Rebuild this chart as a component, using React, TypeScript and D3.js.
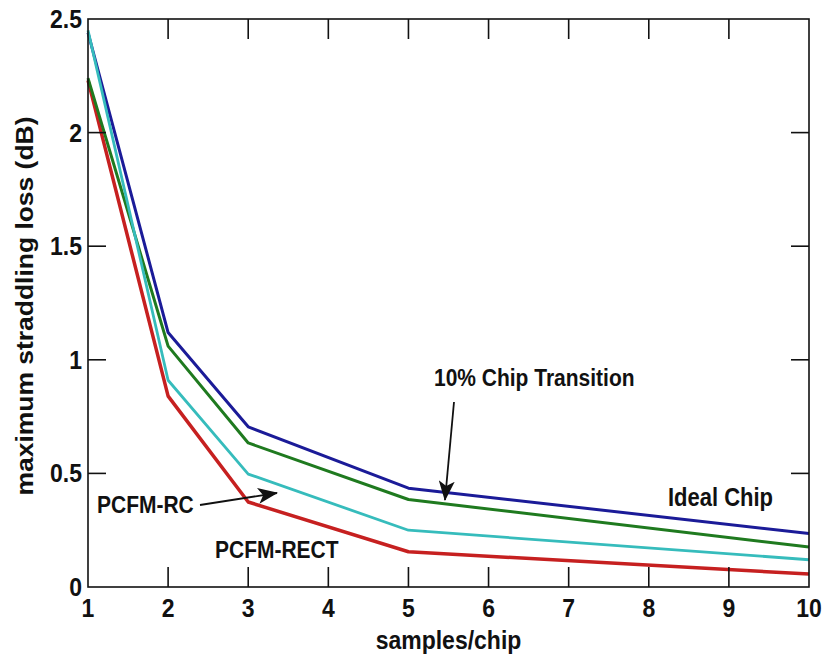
import React from "react";
import * as d3 from "d3";

const samples = [1, 2, 3, 5, 10];
const idealChip = [2.44, 1.12, 0.705, 0.435, 0.235];
const chipTransition10 = [2.24, 1.06, 0.634, 0.385, 0.176];
const pcfmRC = [2.45, 0.91, 0.497, 0.25, 0.12];
const pcfmRect = [2.23, 0.84, 0.374, 0.155, 0.057];

const xTicks = [1, 2, 3, 4, 5, 6, 7, 8, 9, 10];
const yTicks = [0, 0.5, 1, 1.5, 2, 2.5];
const yTickLabels = ["0", "0.5", "1", "1.5", "2", "2.5"];

const W = 827;
const H = 660;
const left = 88;
const right = 809;
const top = 19;
const bottom = 587;

const FONT = "'Liberation Sans', Arial, Helvetica, sans-serif";
const SY = 1.15;

function T(props: {
  x: number;
  y: number;
  size: number;
  anchor?: string;
  weight?: string;
  sy?: number;
  children: React.ReactNode;
}) {
  const { x, y, size, anchor = "start", weight = "bold", sy = SY, children } = props;
  return (
    <text
      transform={`translate(${x},${y}) scale(1,${sy})`}
      textAnchor={anchor}
      fontSize={size}
      fontWeight={weight}
      fill="#111"
    >
      {children}
    </text>
  );
}

export default function App() {
  const x = d3.scaleLinear().domain([1, 10]).range([left, right]);
  const y = d3.scaleLinear().domain([0, 2.5]).range([bottom, top]);

  const line = d3
    .line<number>()
    .x((_, i) => x(samples[i]))
    .y((d) => y(d));

  const series = [
    { name: "Ideal Chip", values: idealChip, color: "#1b1b98", width: 3 },
    { name: "PCFM-RECT", values: pcfmRect, color: "#c62020", width: 3.5 },
    { name: "10% Chip Transition", values: chipTransition10, color: "#1f7a1f", width: 3 },
    { name: "PCFM-RC", values: pcfmRC, color: "#36bcbc", width: 2.8 },
  ];

  const tickX = 20;
  const tickY = 18;

  return (
    <svg
      width={W}
      height={H}
      style={{ position: "absolute", left: 0, top: 0, background: "#fff" }}
      fontFamily={FONT}
    >
      <defs>
        <marker
          id="ah"
          viewBox="0 0 20 16"
          refX="19"
          refY="8"
          markerWidth="20"
          markerHeight="16"
          markerUnits="userSpaceOnUse"
          orient="auto"
        >
          <path d="M0,0 L20,8 L0,16 L5,8 Z" fill="#111" />
        </marker>
      </defs>
      <rect x={0} y={0} width={W} height={H} fill="#fff" />

      {series.map((s) => (
        <path
          key={s.name}
          d={line(s.values) || ""}
          fill="none"
          stroke={s.color}
          strokeWidth={s.width}
          strokeLinejoin="round"
        />
      ))}

      {/* frame */}
      <rect
        x={left}
        y={top}
        width={right - left}
        height={bottom - top}
        fill="none"
        stroke="#111"
        strokeWidth={1.6}
      />

      {/* x ticks */}
      {xTicks.map((t) => (
        <g key={"xt" + t}>
          {t > 1 && t < 10 && (
            <>
              <line x1={x(t)} x2={x(t)} y1={bottom} y2={bottom - tickX} stroke="#111" strokeWidth={1.6} />
              <line x1={x(t)} x2={x(t)} y1={top} y2={top + tickX} stroke="#111" strokeWidth={1.6} />
            </>
          )}
          <T x={x(t)} y={bottom + 30} size={23} anchor="middle">
            {t}
          </T>
        </g>
      ))}

      {/* y ticks */}
      {yTicks.map((t, i) => (
        <g key={"yt" + t}>
          {t > 0 && t < 2.5 && (
            <>
              <line x1={left} x2={left + tickY} y1={y(t)} y2={y(t)} stroke="#111" strokeWidth={1.6} />
              <line x1={right} x2={right - tickY} y1={y(t)} y2={y(t)} stroke="#111" strokeWidth={1.6} />
            </>
          )}
          <T x={left - 6} y={y(t) + 9} size={23} anchor="end">
            {yTickLabels[i]}
          </T>
        </g>
      ))}

      {/* axis labels */}
      <T x={(left + right) / 2} y={649} size={23} anchor="middle">
        samples/chip
      </T>
      <text
        transform={`translate(33, ${(top + bottom) / 2 + 3}) rotate(-90) scale(${SY},1)`}
        textAnchor="middle"
        fontSize={23}
        fontWeight="bold"
        fill="#111"
      >
        maximum straddling loss (dB)
      </text>

      {/* annotations */}
      <T x={434} y={386} size={21}>
        10% Chip Transition
      </T>
      <line x1={454} y1={402} x2={445} y2={500} stroke="#111" strokeWidth={1.8} markerEnd="url(#ah)" />

      <T x={668} y={506} size={22}>
        Ideal Chip
      </T>

      <T x={97} y={513} size={21}>
        PCFM-RC
      </T>
      <line x1={200} y1={505} x2={277} y2={493} stroke="#111" strokeWidth={1.8} markerEnd="url(#ah)" />

      <T x={215} y={558} size={21}>
        PCFM-RECT
      </T>
    </svg>
  );
}
